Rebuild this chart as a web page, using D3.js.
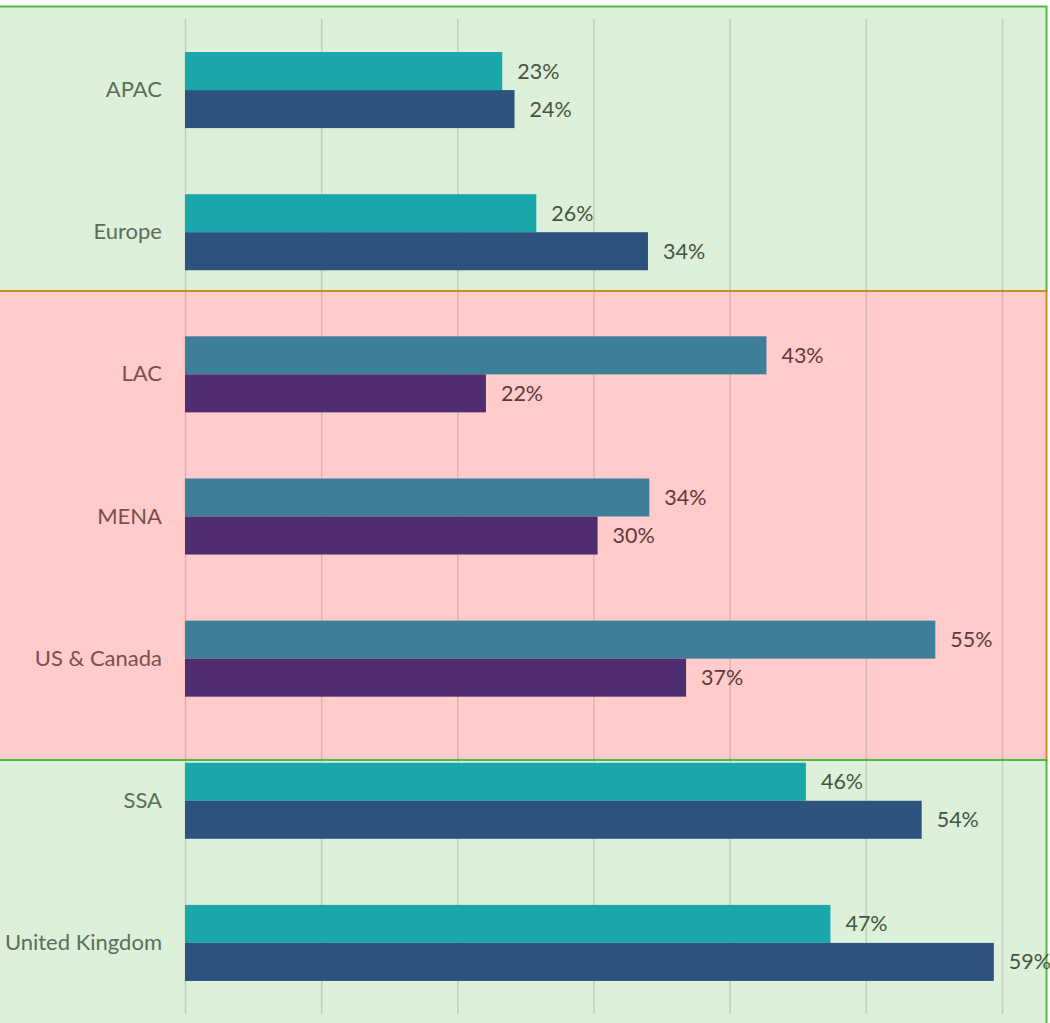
<!DOCTYPE html>
<html>
<head>
<meta charset="utf-8">
<script src="https://cdn.jsdelivr.net/npm/d3@7"></script>
<style>
  body { margin: 0; background: #fff; }
  svg { display: block; font-family: Lato, "Open Sans", sans-serif; }
</style>
</head>
<body>
<script>
// data
const categories = ["APAC", "Europe", "LAC", "MENA", "US & Canada", "SSA", "United Kingdom"];
const seriesA = [23.3, 25.8, 42.7, 34.1, 55.1, 45.6, 47.4];
const seriesB = [24.2, 34.0, 22.1, 30.3, 36.8, 54.1, 59.4];
const xTicks = [0, 10, 20, 30, 40, 50, 60];

// which regions sit in the pink box
const pinkGroup = ["LAC", "MENA", "US & Canada"];

const width = 1050, height = 1023;

const svg = d3.select("body").append("svg")
    .attr("width", width)
    .attr("height", height);

// background boxes (drawn like the shapes in the original)
const boxes = [
    {y0: 6.5, y1: 291, fill: "#ddf0da", stroke: "#52b947"},
    {y0: 291, y1: 760, fill: "#ffcbcb", stroke: "#c98f1f"},
    {y0: 760, y1: 1035, fill: "#ddf0da", stroke: "#52b947"}
];
svg.selectAll("rect.box")
    .data(boxes)
    .enter()
    .append("rect")
    .attr("class", "box")
    .attr("x", -1)
    .attr("y", d => d.y0)
    .attr("width", 1047.5)
    .attr("height", d => d.y1 - d.y0)
    .attr("fill", d => d.fill)
    .attr("stroke", d => d.stroke)
    .attr("stroke-width", 2);

const x = d3.scaleLinear()
    .domain([0, 60])
    .range([185, 1002]);

const y = d3.scaleBand()
    .domain(categories)
    .range([19, 1014])
    .paddingInner(0.465)
    .paddingOuter(0.2325);

const sub = d3.scaleBand()
    .domain([0, 1])
    .range([0, y.bandwidth()]);

// gridlines
const grid = svg.append("g")
    .attr("transform", "translate(0,1014)")
    .call(d3.axisBottom(x).tickValues(xTicks).tickSize(-(1014 - 19)).tickFormat(""));
grid.select(".domain").remove();
grid.selectAll(".tick line")
    .attr("stroke", "#808080")
    .attr("stroke-opacity", 0.3)
    .attr("stroke-width", 1.5);

const isPink = c => pinkGroup.includes(c);
const colA = c => isPink(c) ? "#3d7f99" : "#1aa7a9";
const colB = c => isPink(c) ? "#4f2d6e" : "#2d527d";
const labelCol = c => isPink(c) ? "#61393b" : "#45563f";
const catCol = c => isPink(c) ? "#7b4e50" : "#5b6e5a";

const rows = categories.map((c, i) => ({cat: c, a: seriesA[i], b: seriesB[i]}));
const bars = [];
rows.forEach(r => {
    bars.push({cat: r.cat, k: 0, v: r.a, color: colA(r.cat)});
    bars.push({cat: r.cat, k: 1, v: r.b, color: colB(r.cat)});
});

svg.selectAll("rect.bar")
    .data(bars)
    .enter()
    .append("rect")
    .attr("class", "bar")
    .attr("x", x(0))
    .attr("y", d => y(d.cat) + sub(d.k))
    .attr("width", d => x(d.v) - x(0))
    .attr("height", sub.bandwidth())
    .attr("fill", d => d.color);

const fmt = d => d3.format(".0f")(d) + "%";

svg.selectAll("text.val")
    .data(bars)
    .enter()
    .append("text")
    .attr("class", "val")
    .attr("x", d => x(d.v) + 15)
    .attr("y", d => y(d.cat) + sub(d.k) + sub.bandwidth() / 2)
    .attr("dy", "0.35em")
    .attr("font-size", 21.5)
    .attr("fill", d => labelCol(d.cat))
    .text(d => fmt(d.v));

// category labels
const yAxis = svg.append("g")
    .attr("transform", `translate(${x(0)},0)`)
    .call(d3.axisLeft(y).tickSize(0).tickPadding(23));
yAxis.select(".domain").remove();
yAxis.selectAll(".tick text")
    .attr("font-family", "Lato, 'Open Sans', sans-serif")
    .attr("font-size", 22)
    .attr("fill", d => catCol(d));
</script>
</body>
</html>
